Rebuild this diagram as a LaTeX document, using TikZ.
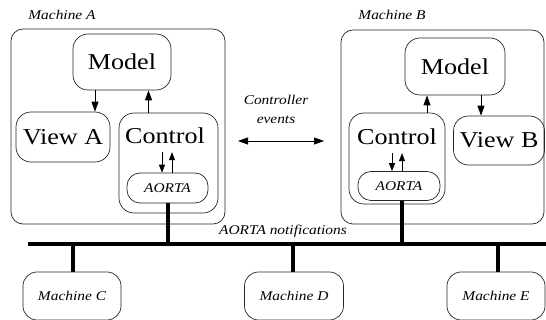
\documentclass[tikz,border=0pt]{standalone}
\usepackage{fontspec}
\setmainfont[FakeStretch=1.15]{Liberation Serif}
\usetikzlibrary{arrows.meta}

\tikzset{
  box/.style={draw=black!85, line width=0.7pt, rounded corners=#1, inner sep=0pt},
  box/.default=14pt,
  big/.style={font=\fontsize{22.7}{24}\selectfont, inner sep=1pt},
  small/.style={font=\fontsize{13.4}{15}\selectfont\itshape, inner sep=1pt},
  arr/.style={line width=0.8pt, -{Triangle[length=10pt,width=7pt]}},
  minarr/.style={line width=0.8pt, -{Triangle[length=8pt,width=6pt]}},
  evarr/.style={line width=0.8pt, {Triangle[length=10pt,width=7pt]}-{Triangle[length=10pt,width=7pt]}},
  wire/.style={line width=4pt, line cap=butt},
}

\begin{document}
\begin{tikzpicture}[x=1pt, y=-1pt]
\useasboundingbox (0,0) rectangle (546,320);

% ---- Machine A ----
\node[box=12pt, minimum width=214pt, minimum height=195pt] (machA) at (118,126.5) {};
\node[small] (machAlbl) at (62,15) {Machine A};
\node[box=15pt, big, minimum width=98pt, minimum height=56pt] (modelA) at (122,62) {Model};
\node[box=15pt, big, minimum width=94pt, minimum height=50pt] (viewA) at (63,137) {View A};
\node[box=15pt, minimum width=99pt, minimum height=100pt] (ctlA) at (168.5,163) {};
\node[big] (ctlAtxt) at (165,136) {Control};
\node[box=13pt, small, minimum width=81pt, minimum height=30pt] (aortaA) at (167.5,188) {AORTA};

\draw[arr] ([xshift=-27pt]modelA.south) -- ([xshift=-27pt]modelA.south |- viewA.north);
\draw[arr] ([xshift=-20pt]ctlA.north) -- ([xshift=-20pt]ctlA.north |- modelA.south);
\draw[minarr, shorten <=7pt] ([xshift=-3pt]ctlAtxt.south) -- ([xshift=-3pt]ctlAtxt.south |- aortaA.north);
\draw[minarr, shorten >=7pt] ([xshift=7pt]ctlAtxt.south |- aortaA.north) -- ([xshift=7pt]ctlAtxt.south);

% ---- Machine B ----
\node[box=12pt, minimum width=203pt, minimum height=194pt] (machB) at (442.5,127) {};
\node[small] (machBlbl) at (392,15) {Machine B};
\node[box=15pt, big, minimum width=100pt, minimum height=57pt] (modelB) at (455,66.5) {Model};
\node[box=15pt, big, minimum width=91pt, minimum height=49pt] (viewB) at (499,140.5) {View B};
\node[box=15pt, minimum width=96pt, minimum height=91pt] (ctlB) at (397,158.5) {};
\node[big] (ctlBtxt) at (397,137) {Control};
\node[box=13pt, small, minimum width=82pt, minimum height=29pt] (aortaB) at (399,186) {AORTA};

\draw[arr] ([xshift=30pt]ctlB.north) -- ([xshift=30pt]ctlB.north |- modelB.south);
\draw[arr] ([xshift=-18pt]viewB.north |- modelB.south) -- ([xshift=-18pt]viewB.north);
\draw[minarr, shorten <=7pt] ([xshift=-5pt]ctlBtxt.south) -- ([xshift=-5pt]ctlBtxt.south |- aortaB.north);
\draw[minarr, shorten >=7pt] ([xshift=5pt]ctlBtxt.south |- aortaB.north) -- ([xshift=5pt]ctlBtxt.south);

% ---- controller events between the machines ----
\node[small] (evtxt1) at (276,100) {Controller};
\node[small] (evtxt2) at (276,120) {events};
\coordinate (evL) at (238,141);
\coordinate (evR) at (324,141);
\draw[evarr] (evL) -- (evR);

% ---- notification bus ----
\coordinate (busL) at (28,244);
\coordinate (busR) at (546,244);
\draw[wire] (busL) -- (busR);
\node[small] (buslbl) at (283,231) {AORTA notifications};

\draw[wire] (aortaA.south) -- (aortaA.south |- busL);
\draw[wire] ([xshift=3pt]aortaB.south) -- ([xshift=3pt]aortaB.south |- busL);

% ---- further machines on the bus ----
\node[box=14pt, small, minimum width=98pt, minimum height=48pt] (machC) at (72,296) {Machine C};
\node[box=14pt, small, minimum width=99pt, minimum height=48pt] (machD) at (294,296) {Machine D};
\node[box=14pt, small, minimum width=98pt, minimum height=48pt] (machE) at (496,296) {Machine E};

\draw[wire] ([xshift=1pt]machC.north) -- ([xshift=1pt]machC.north |- busL);
\draw[wire] ([xshift=-1pt]machD.north) -- ([xshift=-1pt]machD.north |- busL);
\draw[wire] ([xshift=2pt]machE.north) -- ([xshift=2pt]machE.north |- busL);
\end{tikzpicture}
\end{document}
